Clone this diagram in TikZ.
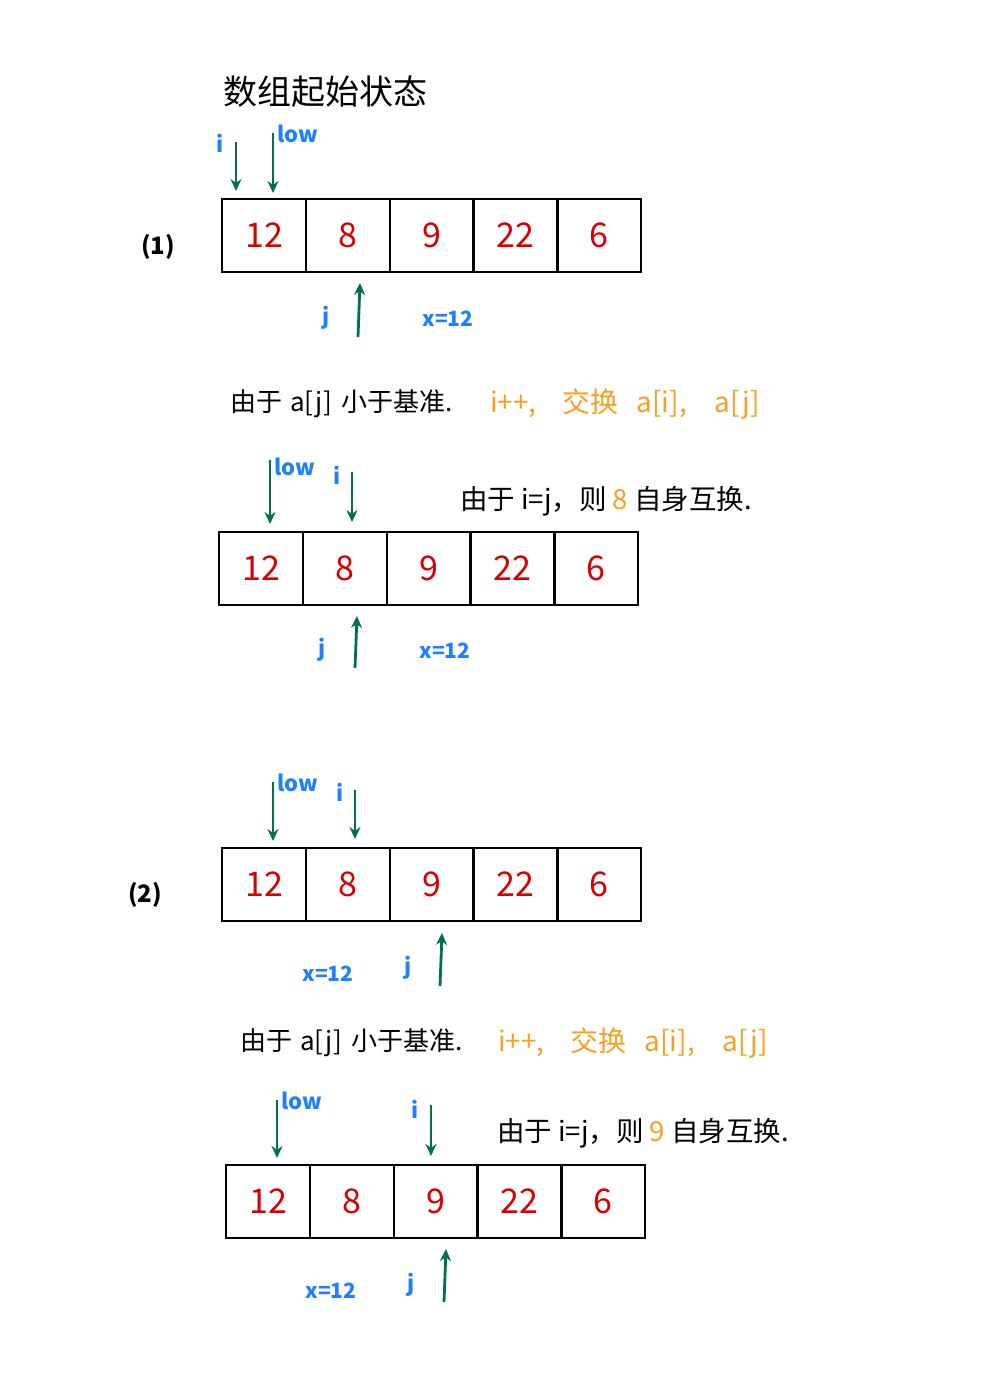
\documentclass[tikz,border=0pt]{standalone}
\usepackage{fontspec}
\setmainfont{Noto Sans CJK SC}
\usetikzlibrary{arrows.meta}
\definecolor{grn}{RGB}{0,112,80}
\definecolor{blu}{RGB}{30,128,255}
\definecolor{rd}{RGB}{215,0,0}
\definecolor{org}{RGB}{245,160,35}
\begin{document}
\begin{tikzpicture}[x=1pt,y=-1pt,
  cell/.style={draw=black,line width=2.2pt,minimum width=84pt,minimum height=73pt,inner sep=0pt,anchor=north west,text=rd,font=\fontsize{34}{34}\selectfont},
  garrow/.style={draw=grn,line width=2.8pt,-{Stealth[length=12pt,width=11pt]}},
  lbl/.style={text=blu,inner sep=0pt,font=\fontsize{22}{22}\selectfont\bfseries},
  xlbl/.style={text=blu,inner sep=0pt,font=\fontsize{21}{21}\selectfont\bfseries},
  txt/.style={inner sep=0pt,anchor=west,font=\fontsize{26}{26}\selectfont},
  otxt/.style={inner sep=0pt,anchor=west,text=org,font=\fontsize{28}{28}\selectfont},
  stxt/.style={inner sep=0pt,anchor=west,font=\fontsize{27.5}{28}\selectfont},
  head/.style={inner sep=0pt,anchor=west,font=\fontsize{34}{34}\selectfont},
  num/.style={inner sep=0pt,font=\fontsize{24}{24}\selectfont\bfseries}]
\useasboundingbox (0,0) rectangle (1000,1373);

\node[head] (title) at (223,92) {数组起始状态};
\node[num] (n1) at (158,247) {(1)};
\node[num] (n2) at (145,895) {(2)};

% arrays
\foreach \v [count=\k] in {12,8,9,22,6} {
  \node[cell] (a\k) at ({221+83.8*(\k-1)},198) {\v};
  \node[cell] (b\k) at ({218+83.8*(\k-1)},531) {\v};
  \node[cell] (c\k) at ({221+83.8*(\k-1)},847) {\v};
  \node[cell] (d\k) at ({225+83.8*(\k-1)},1164) {\v};
}

% ---- array 1
\coordinate (ai0) at (236,142); \coordinate (ai1) at (236,191);
\coordinate (al0) at (273,133); \coordinate (al1) at (273,193);
\draw[garrow] (ai0) -- (ai1);
\draw[garrow] (al0) -- (al1);
\node[lbl] (ail) at (220,143) {i};
\node[lbl,anchor=west] (all) at (277,134) {low};
\coordinate (aj0) at (358,337); \coordinate (aj1) at (360,283);
\draw[garrow] (aj0) -- (aj1);
\node[lbl] (ajl) at (326,318) {j};
\node[xlbl] (ax) at (448,319) {x=12};

\node[txt] (t1) at (230,404) {由于\hspace{8pt}a[j]\hspace{10pt}小于基准.};
\node[otxt] (t1b) at (490,404) {i++,\hspace{26pt}交换\hspace{18pt}a[i],\hspace{28pt}a[j]};

% ---- array 2
\coordinate (bl0) at (270,460); \coordinate (bl1) at (270,524);
\coordinate (bi0) at (352,472); \coordinate (bi1) at (352,522);
\draw[garrow] (bl0) -- (bl1);
\draw[garrow] (bi0) -- (bi1);
\node[lbl,anchor=west] (bll) at (274,467) {low};
\node[lbl] (bil) at (337,475) {i};
\node[stxt] (t2) at (460,501) {由于 i=j，则 \textcolor{org}{8} 自身互换.};
\coordinate (bj0) at (355,668); \coordinate (bj1) at (357,616);
\draw[garrow] (bj0) -- (bj1);
\node[lbl] (bjl) at (322,650) {j};
\node[xlbl] (bx) at (445,651) {x=12};

% ---- array 3
\coordinate (cl0) at (273,782); \coordinate (cl1) at (273,841);
\coordinate (ci0) at (355,790); \coordinate (ci1) at (355,839);
\draw[garrow] (cl0) -- (cl1);
\draw[garrow] (ci0) -- (ci1);
\node[lbl,anchor=west] (cll) at (277,783) {low};
\node[lbl] (cil) at (340,792) {i};
\node[xlbl] (cx) at (328,974) {x=12};
\node[lbl] (cjl) at (408,968) {j};
\coordinate (cj0) at (440,986); \coordinate (cj1) at (442,933);
\draw[garrow] (cj0) -- (cj1);

\node[txt] (t3) at (240,1043) {由于\hspace{8pt}a[j]\hspace{10pt}小于基准.};
\node[otxt] (t3b) at (498,1043) {i++,\hspace{26pt}交换\hspace{18pt}a[i],\hspace{28pt}a[j]};

% ---- array 4
\coordinate (dl0) at (277,1100); \coordinate (dl1) at (277,1158);
\coordinate (di0) at (431,1105); \coordinate (di1) at (431,1156);
\draw[garrow] (dl0) -- (dl1);
\draw[garrow] (di0) -- (di1);
\node[lbl,anchor=west] (dll) at (281,1101) {low};
\node[lbl] (dil) at (415,1109) {i};
\node[stxt] (t4) at (497,1133) {由于 i=j，则 \textcolor{org}{9} 自身互换.};
\node[xlbl] (dx) at (331,1291) {x=12};
\node[lbl] (djl) at (411,1285) {j};
\coordinate (dj0) at (444,1302); \coordinate (dj1) at (446,1249);
\draw[garrow] (dj0) -- (dj1);
\end{tikzpicture}
\end{document}
